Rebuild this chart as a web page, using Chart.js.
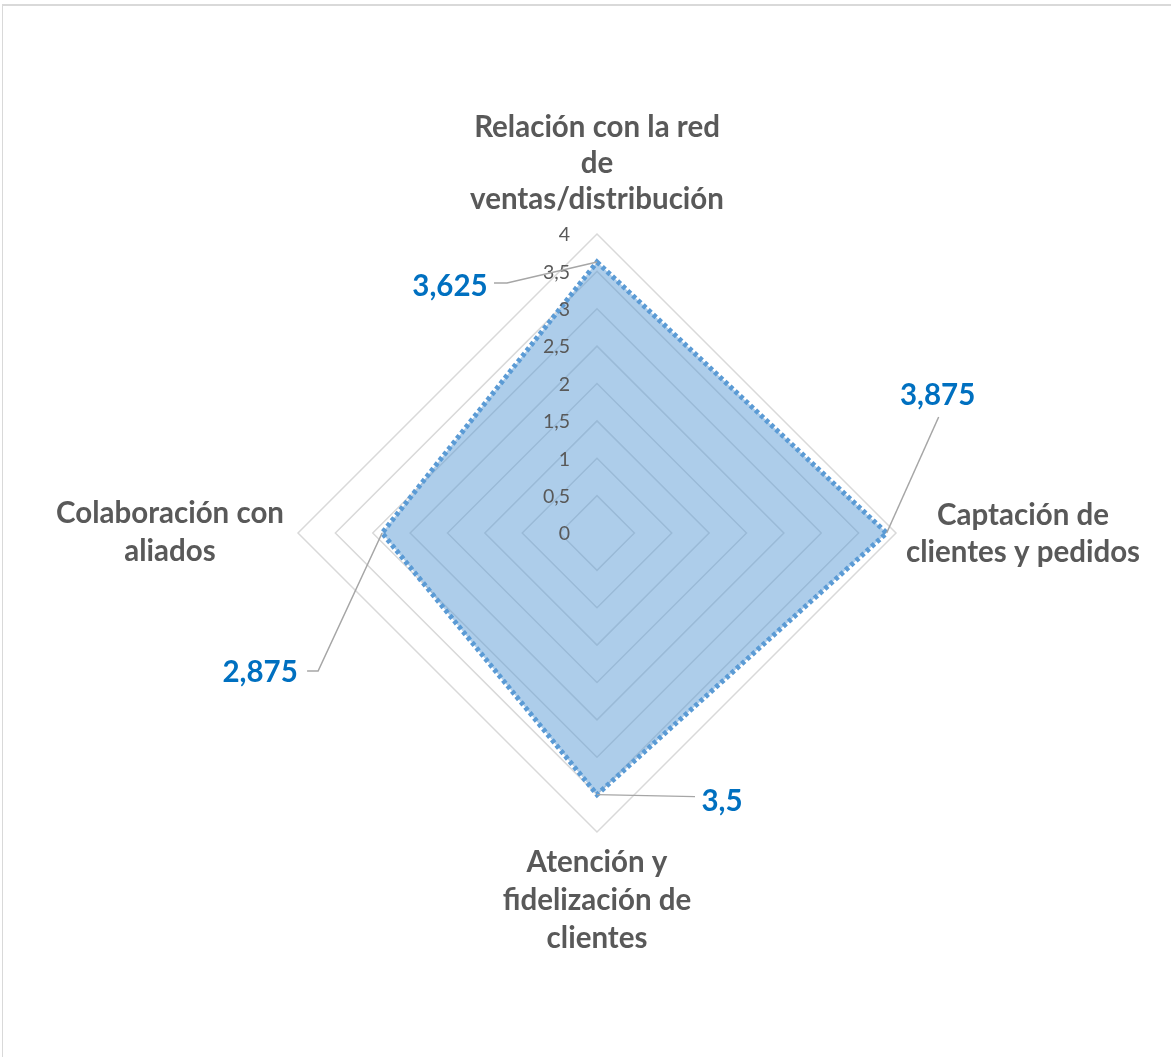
<!DOCTYPE html>
<html>
<head>
<meta charset="utf-8">
<script src="https://cdn.jsdelivr.net/npm/chart.js@4"></script>
<style>
  html, body { margin: 0; padding: 0; background: #ffffff; overflow: hidden; }
  #frame { position: absolute; left: 2px; top: 4px; width: 1300px; height: 1200px;
           border-top: 2px solid #d9d9d9; border-left: 1px solid #d9d9d9; }
  #wrap { position: absolute; left: 0; top: 0; width: 1171px; height: 1057px; }
</style>
</head>
<body>
<div id="frame"></div>
<div id="wrap"><canvas id="c" width="1171" height="1057"></canvas></div>
<script>
// ---- data ----
const categories = [
  ["Relación con la red", "de", "ventas/distribución"],
  ["Captación de", "clientes y pedidos"],
  ["Atención y", "fidelización de", "clientes"],
  ["Colaboración con", "aliados"]
];
const values = [3.625, 3.875, 3.5, 2.875];
const valueLabels = ["3,625", "3,875", "3,5", "2,875"];
const tickValues = [0, 0.5, 1, 1.5, 2, 2.5, 3, 3.5, 4];
const tickLabels = ["0", "0,5", "1", "1,5", "2", "2,5", "3", "3,5", "4"];

// ---- styling / placement (not data) ----
const pointLabelLayout = [
  { dx: 0,    dys: [-107, -71, -35] },
  { dx: 127,  dys: [-18, 19] },
  { dx: 0,    dys: [30, 68, 106] },
  { dx: -128, dys: [-20, 18] }
];
const dataLabelLayout = [
  { dx: -147, dy: 24,  leader: [[-90, 21], [-103, 21]] },
  { dx: 51,   dy: -138, leader: [[52, -116]] },
  { dx: 125,  dy: 7,   leader: [[98, 2]] },
  { dx: -122, dy: 139, leader: [[-64, 138], [-75, 138]] }
];

const overlay = {
  id: 'overlay',
  afterDatasetsDraw(chart) {
    const ctx = chart.ctx;
    const r = chart.scales.r;
    const maxDist = r.getDistanceFromCenterForValue(4);
    ctx.save();
    // tick labels
    ctx.font = '19.5px Lato';
    ctx.fillStyle = '#595959';
    ctx.textAlign = 'right';
    ctx.textBaseline = 'middle';
    tickValues.forEach((v, i) => {
      const y = r.yCenter - r.getDistanceFromCenterForValue(v);
      ctx.fillText(tickLabels[i], r.xCenter - 27, y + 1);
    });
    // point labels
    ctx.font = 'bold 29.5px Lato';
    ctx.textAlign = 'center';
    categories.forEach((lines, i) => {
      const p = r.getPointPosition(i, maxDist);
      const L = pointLabelLayout[i];
      lines.forEach((t, j) => ctx.fillText(t, p.x + L.dx, p.y + L.dys[j]));
    });
    // data labels + leader lines
    const meta = chart.getDatasetMeta(0);
    meta.data.forEach((pt, i) => {
      const L = dataLabelLayout[i];
      ctx.strokeStyle = '#a6a6a6';
      ctx.lineWidth = 1.5;
      ctx.beginPath();
      ctx.moveTo(pt.x, pt.y);
      L.leader.forEach(q => ctx.lineTo(pt.x + q[0], pt.y + q[1]));
      ctx.stroke();
      ctx.fillStyle = '#0070C0';
      ctx.font = 'bold 29.5px Lato';
      ctx.textAlign = 'center';
      ctx.textBaseline = 'middle';
      ctx.fillText(valueLabels[i], pt.x + L.dx, pt.y + L.dy);
    });
    ctx.restore();
  }
};

new Chart(document.getElementById('c'), {
  type: 'radar',
  data: {
    labels: categories.map(l => l.join(' ')),
    datasets: [{
      data: values,
      backgroundColor: 'rgba(91,155,213,0.5)',
      borderColor: '#5B9BD5',
      borderWidth: 5,
      borderDash: [4, 3],
      borderCapStyle: 'butt',
      pointRadius: 0,
      pointHoverRadius: 0,
      fill: true,
      tension: 0
    }]
  },
  options: {
    responsive: false,
    animation: false,
    events: [],
    layout: { padding: { left: 298, right: 275, top: 234, bottom: 225 } },
    plugins: { legend: { display: false }, tooltip: { enabled: false } },
    scales: {
      r: {
        min: 0,
        max: 4,
        ticks: { display: false, stepSize: 0.5 },
        grid: { color: '#d9d9d9', lineWidth: 1.5 },
        angleLines: { display: false },
        pointLabels: { display: false }
      }
    }
  },
  plugins: [overlay]
});
</script>
</body>
</html>
